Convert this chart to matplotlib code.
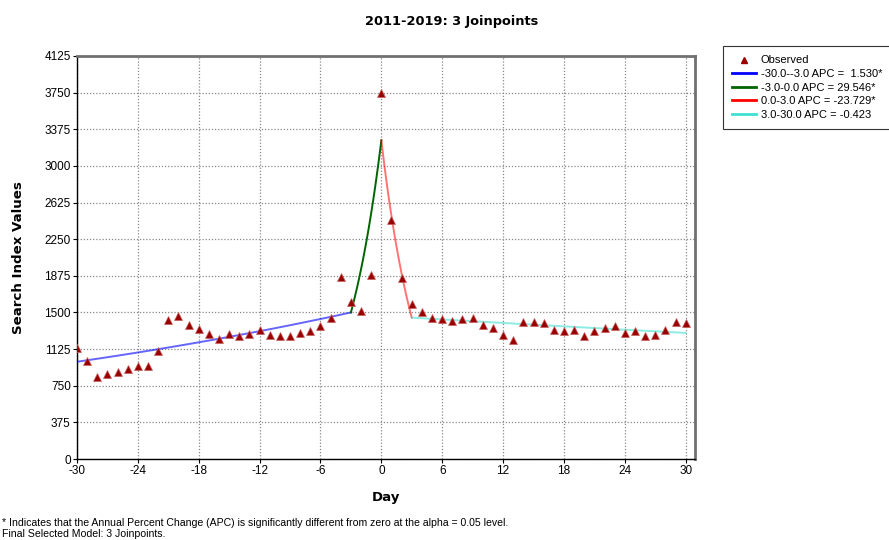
import numpy as np
import matplotlib
matplotlib.use("Agg")
import matplotlib.pyplot as plt
from matplotlib.lines import Line2D

# ---------------- data ----------------
days = list(range(-30, 31))
observed = [1139, 1003, 841, 868, 892, 926, 949, 949, 1105, 1426,
            1459, 1375, 1331, 1284, 1233, 1280, 1257, 1284, 1324, 1267,
            1264, 1264, 1291, 1314, 1358, 1446, 1865, 1605, 1520, 1882,
            3745,
            2445, 1848, 1588, 1500, 1439, 1436, 1416, 1429, 1446, 1368,
            1341, 1274, 1223, 1402, 1402, 1392, 1324, 1307, 1321, 1260,
            1307, 1338, 1365, 1294, 1314, 1257, 1274, 1324, 1399, 1392]

joinpoints = [-30, -3, 0, 3, 30]
apc = [1.530, 29.546, -23.729, -0.423]
fit_at_first_joinpoint = 1500  # fitted value at day -3
seg_labels = ["-30.0--3.0 APC =  1.530*",
              "-3.0-0.0 APC = 29.546*",
              "0.0-3.0 APC = -23.729*",
              "3.0-30.0 APC = -0.423"]
seg_colors = ["#0000ff", "#006400", "#ff0000", "#40e0d0"]
seg_alpha = [0.6, 1.0, 0.55, 0.6]

yticks = [0, 375, 750, 1125, 1500, 1875, 2250, 2625, 3000, 3375, 3750, 4125]
xticks = [-30, -24, -18, -12, -6, 0, 6, 12, 18, 24, 30]

title = "2011-2019: 3 Joinpoints"
footnote1 = "* Indicates that the Annual Percent Change (APC) is significantly different from zero at the alpha = 0.05 level."
footnote2 = "Final Selected Model: 3 Joinpoints."

# ---------------- figure ----------------
W, H = 889, 540
fig = plt.figure(figsize=(W / 100, H / 100), dpi=100)
fig.patch.set_facecolor("white")

L, R, T, B = 77, 695, 56, 459
ax = fig.add_axes([L / W, 1 - B / H, (R - L) / W, (B - T) / H])

# fitted segments (log-linear joinpoint model), value at each joinpoint
vals = [None] * len(joinpoints)
vals[1] = fit_at_first_joinpoint
vals[0] = vals[1] / (1 + apc[0] / 100) ** (joinpoints[1] - joinpoints[0])
for i in range(1, len(apc)):
    vals[i + 1] = vals[i] * (1 + apc[i] / 100) ** (joinpoints[i + 1] - joinpoints[i])

handles = [Line2D([], [], marker="^", color="#990000", linestyle="none",
                  markersize=4, label="Observed")]
for i in range(len(apc)):
    a, b = joinpoints[i], joinpoints[i + 1]
    xs = np.linspace(a, b, 60)
    ys = vals[i] * (1 + apc[i] / 100) ** (xs - a)
    ax.plot(xs, ys, color=seg_colors[i], alpha=seg_alpha[i], lw=1.4, zorder=3)
    handles.append(Line2D([], [], color=seg_colors[i], lw=2, label=seg_labels[i]))

ax.plot(days, observed, linestyle="none", marker="^", markersize=5.5,
        color="#990000", markeredgecolor="#c86060", markeredgewidth=0.5, zorder=4)

ax.set_xlim(-30, 30.92)
ax.set_ylim(0, 4125)
ax.set_xticks(xticks)
ax.set_yticks(yticks)
ax.set_xticklabels([str(t) for t in xticks], fontfamily="Liberation Sans", fontsize=8.5)
ax.set_yticklabels([str(t) for t in yticks], fontfamily="Liberation Sans", fontsize=8.5)
ax.tick_params(direction="out", length=3, width=0.8, colors="black", pad=1.5)
ax.grid(True, linestyle=(0, (1, 1.5)), color="#888888", linewidth=0.9)
ax.set_axisbelow(True)

for s in ["left", "bottom"]:
    ax.spines[s].set_color("black")
    ax.spines[s].set_linewidth(1.0)
for s in ["top", "right"]:
    ax.spines[s].set_color("#707070")
    ax.spines[s].set_linewidth(2.0)

fig.text(452 / W, 1 - 21 / H, title, ha="center", va="center",
         fontsize=9.3, fontweight="bold", fontfamily="DejaVu Sans")
fig.text(19 / W, 1 - 258 / H, "Search Index Values", rotation=90,
         ha="center", va="center", fontsize=9.6, fontweight="bold", fontfamily="DejaVu Sans")
fig.text(386 / W, 1 - 497 / H, "Day", ha="center", va="center",
         fontsize=9.5, fontweight="bold", fontfamily="DejaVu Sans")

fig.text(2 / W, 1 - 523 / H, footnote1, ha="left", va="center",
         fontsize=7.6, fontfamily="Liberation Sans")
fig.text(2 / W, 1 - 534 / H, footnote2, ha="left", va="center",
         fontsize=7.6, fontfamily="Liberation Sans")

leg = fig.legend(handles=handles, loc="upper left",
                 bbox_to_anchor=(723 / W, 1 - 46 / H),
                 prop={"family": "Liberation Sans", "size": 8},
                 frameon=True, fancybox=False, handlelength=2.1,
                 handletextpad=0.45, labelspacing=0.32, borderpad=0.85,
                 borderaxespad=0)
leg.get_frame().set_edgecolor("black")
leg.get_frame().set_linewidth(0.8)

fig.savefig("out.png", dpi=100, facecolor="white")
